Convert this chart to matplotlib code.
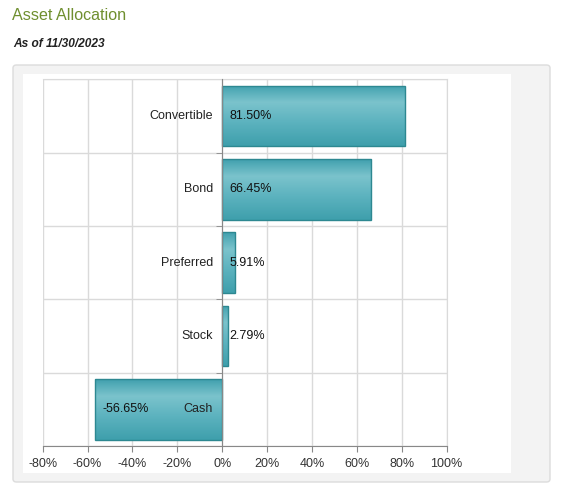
import numpy as np
import matplotlib
matplotlib.use("Agg")
import matplotlib.pyplot as plt
from matplotlib.patches import FancyBboxPatch, Rectangle
from matplotlib.colors import LinearSegmentedColormap

plt.rcParams['font.family'] = ['Liberation Sans', 'DejaVu Sans']

categories = ["Convertible", "Bond", "Preferred", "Stock", "Cash"]
values = [81.50, 66.45, 5.91, 2.79, -56.65]
value_labels = ["81.50%", "66.45%", "5.91%", "2.79%", "-56.65%"]
xticks = [-80, -60, -40, -20, 0, 20, 40, 60, 80, 100]
xtick_labels = ["-80%", "-60%", "-40%", "-20%", "0%", "20%", "40%", "60%", "80%", "100%"]
title = "Asset Allocation"
subtitle = "As of 11/30/2023"

W, H = 564, 497
fig = plt.figure(figsize=(W / 100, H / 100), dpi=100)
fig.patch.set_facecolor("white")

def fx(px):
    return px / W

def fy(py):
    return 1 - py / H

# outer gray panel
panel = FancyBboxPatch((fx(13), fy(482)), fx(550 - 13), (482 - 65) / H,
                       boxstyle="round,pad=0,rounding_size=0.006",
                       transform=fig.transFigure, facecolor="#f3f3f3",
                       edgecolor="#dcdcdc", linewidth=1.0, zorder=0)
fig.patches.append(panel)
inner = Rectangle((fx(23), fy(473)), fx(511 - 23), (473 - 74) / H,
                  transform=fig.transFigure, facecolor="white",
                  edgecolor="none", zorder=0.5)
fig.patches.append(inner)

fig.text(fx(12), fy(16), title, fontsize=11.6, color="#6f8f2f",
         ha="left", va="center")
fig.text(fx(13), fy(44), subtitle, fontsize=8.6, color="#222222",
         ha="left", va="center", fontweight="bold", fontstyle="italic")

left, right, top, bottom = 42.7, 446.5, 79.3, 446
ax = fig.add_axes([fx(left), fy(bottom), fx(right - left), (bottom - top) / H])
ax.set_facecolor("none")
ax.set_zorder(2)

n = len(categories)
ypos = np.arange(n)
ax.set_xlim(-80, 100)
ax.set_ylim(n - 0.5, -0.5)

grid_color = "#dadada"
axis_color = "#888888"

ax.set_xticks(xticks)
ax.set_xticklabels(xtick_labels)
ax.set_yticks(ypos)
ax.set_yticklabels([""] * n)
ax.set_yticks(np.arange(-0.5, n, 1.0), minor=True)
ax.tick_params(axis="x", which="major", length=4, color=axis_color,
               labelsize=9, labelcolor="#333333", pad=4.5)
ax.tick_params(axis="y", which="major", length=0)
ax.tick_params(axis="y", which="minor", length=4, color=axis_color, direction="out")
ax.set_axisbelow(True)
ax.grid(axis="x", which="major", color=grid_color, linewidth=1)
ax.grid(axis="y", which="minor", color=grid_color, linewidth=1)

ax.spines["left"].set_position(("data", 0))
ax.spines["left"].set_color(axis_color)
ax.spines["left"].set_zorder(5)
ax.spines["bottom"].set_color(axis_color)
ax.spines["top"].set_color(grid_color)
ax.spines["right"].set_color(grid_color)

cmap = LinearSegmentedColormap.from_list(
    "tealgrad",
    [(0.0, "#40a0ae"), (0.28, "#7bc3cc"), (0.6, "#5db3bf"), (1.0, "#3e9fac")])
grad = np.linspace(0, 1, 256).reshape(-1, 1)

bar_h = 0.83
bars = ax.barh(ypos, values, height=bar_h, facecolor="none",
               edgecolor="#2d8891", linewidth=1, zorder=3)
for b in bars:
    x0, y0 = b.get_x(), b.get_y()
    w, h = b.get_width(), b.get_height()
    im = ax.imshow(grad, extent=(x0, x0 + w, y0 + h, y0), origin="upper",
                   aspect="auto", cmap=cmap, zorder=2, interpolation="bilinear")
    im.set_clip_path(b)

ax.set_xlim(-80, 100)
ax.set_ylim(n - 0.5, -0.5)

for i, (c, v, lab) in enumerate(zip(categories, values, value_labels)):
    ax.annotate(c, (0, i), xytext=(-6.5, 0), textcoords="offset points",
                ha="right", va="center", fontsize=9, color="#222222", zorder=6)
    xv = min(0, v)
    ax.annotate(lab, (xv, i), xytext=(5, 0), textcoords="offset points",
                ha="left", va="center", fontsize=9, color="#111111", zorder=6)

fig.savefig("out.png", dpi=100, facecolor="white")
